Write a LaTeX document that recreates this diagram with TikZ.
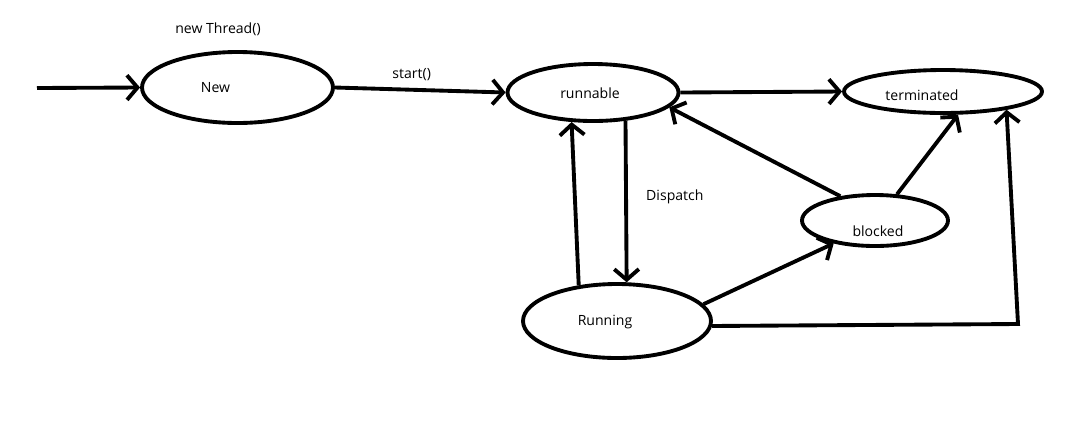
\documentclass[tikz,border=0pt]{standalone}
\usepackage{fontspec}
\setmainfont{Open Sans}
\usepackage{tikz}
\usetikzlibrary{shapes.geometric,arrows.meta,positioning}

\begin{document}
\begin{tikzpicture}
[>={Straight Barb[length=6pt,width=14pt]},line width=2.2pt,font=\fontsize{8}{10}\selectfont,
state/.style = {draw, ellipse, inner sep = 0pt},
txt/.style = {inner sep = 1pt},]
\useasboundingbox (0,0) rectangle (21.3,-8.62);
\node (New) at (4.75,-1.75)[state,minimum width=3.82cm,minimum height=1.42cm,label={[txt,name=NewTxt,xshift=-4.4mm]center:New}] {};
\node (runnable) at (11.86,-1.85)[state,minimum width=3.42cm,minimum height=1.14cm,label={[txt,name=runnableTxt,xshift=-0.6mm,yshift=-0.2mm]center:runnable}] {};
\node (terminated) at (18.86,-1.83)[state,minimum width=3.96cm,minimum height=0.86cm,label={[txt,name=terminatedTxt,xshift=-4.2mm,yshift=-0.8mm]center:terminated}] {};
\node (blocked) at (17.5,-4.41)[state,minimum width=2.92cm,minimum height=1.02cm,label={[txt,name=blockedTxt,xshift=0.6mm,yshift=-2.1mm]center:blocked}] {};
\node (Running) at (12.34,-6.42)[state,minimum width=3.76cm,minimum height=1.48cm,label={[txt,name=RunningTxt,xshift=-2.4mm,yshift=-0.3mm]center:Running}] {};
\node (newThread) at (4.36,-0.58)[txt] {new Thread()};
\coordinate (entry) at (0.74,-1.76);
\coordinate (corner) at (20.36,-6.48);
\draw[->] (entry)--(New.west);
\draw[->] (New.east)-- node[txt,pos=0.45,above=1mm,name=startTxt] {start()} (runnable.west);
\draw[->] (runnable.east)--(terminated.west);
\draw[->] (runnable.-41)-- node[txt,pos=0.47,right=3.3mm,name=dispatchTxt] {Dispatch} (Running.76);
\draw[->] (Running.137)--(runnable.-126);
\draw[->] (Running.11)--(blocked.209);
\draw[->] (blocked.145)--(runnable.-11);
\draw[->] (blocked.50)--(terminated.-57);
\draw[->] (Running.-3)--(corner)--(terminated.-16);
\end{tikzpicture}
\end{document}
